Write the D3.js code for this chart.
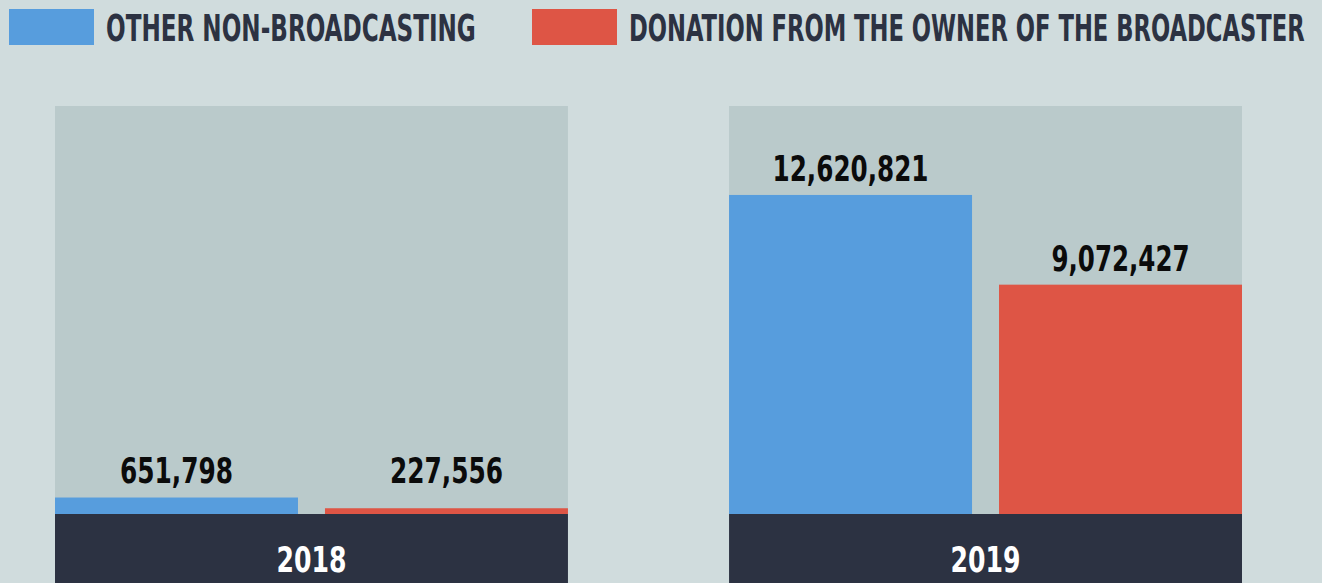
<!DOCTYPE html>
<html lang="en">
<head>
    <meta charset="UTF-8">
    <title>Non-broadcasting income</title>
    <script src="https://d3js.org/d3.v7.min.js"></script>
    <style>
        body { margin: 0; background: #d0dcdd; }
        svg { display: block; }
        text { font-family: "DejaVu Sans Condensed", "Liberation Sans Narrow", sans-serif; font-weight: bold; }
    </style>
</head>
<body>
    <div id="chart"></div>

    <script>
        // données
        const years = ["2018", "2019"];
        const series = ["OTHER NON-BROADCASTING", "DONATION FROM THE OWNER OF THE BROADCASTER"];
        const otherNonBroadcasting = [651798, 12620821];
        const ownerDonation = [227556, 9072427];
        const colors = ["#579ddd", "#de5545"];

        const width = 1322, height = 583;
        const panelTop = 106, base = 514;

        const svg = d3.select("#chart").append("svg")
            .attr("width", width).attr("height", height);

        const fmt = d3.format(",");
        // largeur d'un libellé condensé : chiffres ~17.75px, virgules ~7.5px
        const numWidth = s => s.replace(/[^0-9]/g, "").length * 17.75 + s.replace(/[0-9]/g, "").length * 7.5 - 1;

        // échelles
        const x0 = d3.scaleBand().domain(years).range([55, 1242]).paddingInner(0.239).paddingOuter(0);
        const x1 = d3.scaleBand().domain(series).range([0, x0.bandwidth()]).paddingInner(0.1).paddingOuter(0);
        const y = d3.scaleLinear().domain([0, 16140000]).range([base, panelTop]);

        const rows = years.map((yr, i) => ({
            year: yr,
            values: [
                { key: series[0], v: otherNonBroadcasting[i], c: colors[0] },
                { key: series[1], v: ownerDonation[i], c: colors[1] }
            ]
        }));

        const g = svg.selectAll("g.year").data(rows).enter().append("g")
            .attr("class", "year")
            .attr("transform", d => `translate(${x0(d.year)},0)`);

        // fond du panneau
        g.append("rect")
            .attr("x", 0).attr("y", panelTop)
            .attr("width", x0.bandwidth()).attr("height", base - panelTop)
            .attr("fill", "#bacacb");

        // bandeau année
        g.append("rect")
            .attr("x", 0).attr("y", base)
            .attr("width", x0.bandwidth()).attr("height", height - base)
            .attr("fill", "#2c3242");
        g.append("text")
            .attr("x", x0.bandwidth() / 2).attr("y", 572)
            .attr("text-anchor", "middle")
            .attr("fill", "#fff")
            .style("font-size", "35px")
            .attr("textLength", d => numWidth(d.year))
            .attr("lengthAdjust", "spacingAndGlyphs")
            .text(d => d.year);

        // barres
        g.selectAll("rect.bar").data(d => d.values).enter().append("rect")
            .attr("class", "bar")
            .attr("x", d => x1(d.key))
            .attr("y", d => y(d.v))
            .attr("width", x1.bandwidth())
            .attr("height", d => base - y(d.v))
            .attr("fill", d => d.c);

        g.selectAll("text.val").data(d => d.values).enter().append("text")
            .attr("class", "val")
            .attr("x", d => x1(d.key) + x1.bandwidth() / 2)
            .attr("y", d => Math.min(y(d.v) - 14, 483))
            .attr("text-anchor", "middle")
            .attr("fill", "#0b0b0b")
            .style("font-size", "35px")
            .attr("textLength", d => numWidth(fmt(d.v)))
            .attr("lengthAdjust", "spacingAndGlyphs")
            .text(d => fmt(d.v));

        // légende
        const legend = [
            { label: series[0], c: colors[0], x: 9, tw: 370 },
            { label: series[1], c: colors[1], x: 532, tw: 676 }
        ];
        const lg = svg.selectAll("g.legend").data(legend).enter().append("g")
            .attr("class", "legend")
            .attr("transform", d => `translate(${d.x},9)`);
        lg.append("rect")
            .attr("width", 85).attr("height", 36)
            .attr("fill", d => d.c);
        lg.append("text")
            .attr("fill", "#2c3242")
            .style("font-size", "38px")
            .text(d => d.label)
            .attr("transform", function(d) {
                const w = this.getComputedTextLength();
                return `translate(97,32) scale(${d.tw / w},1)`;
            });
    </script>
</body>
</html>
